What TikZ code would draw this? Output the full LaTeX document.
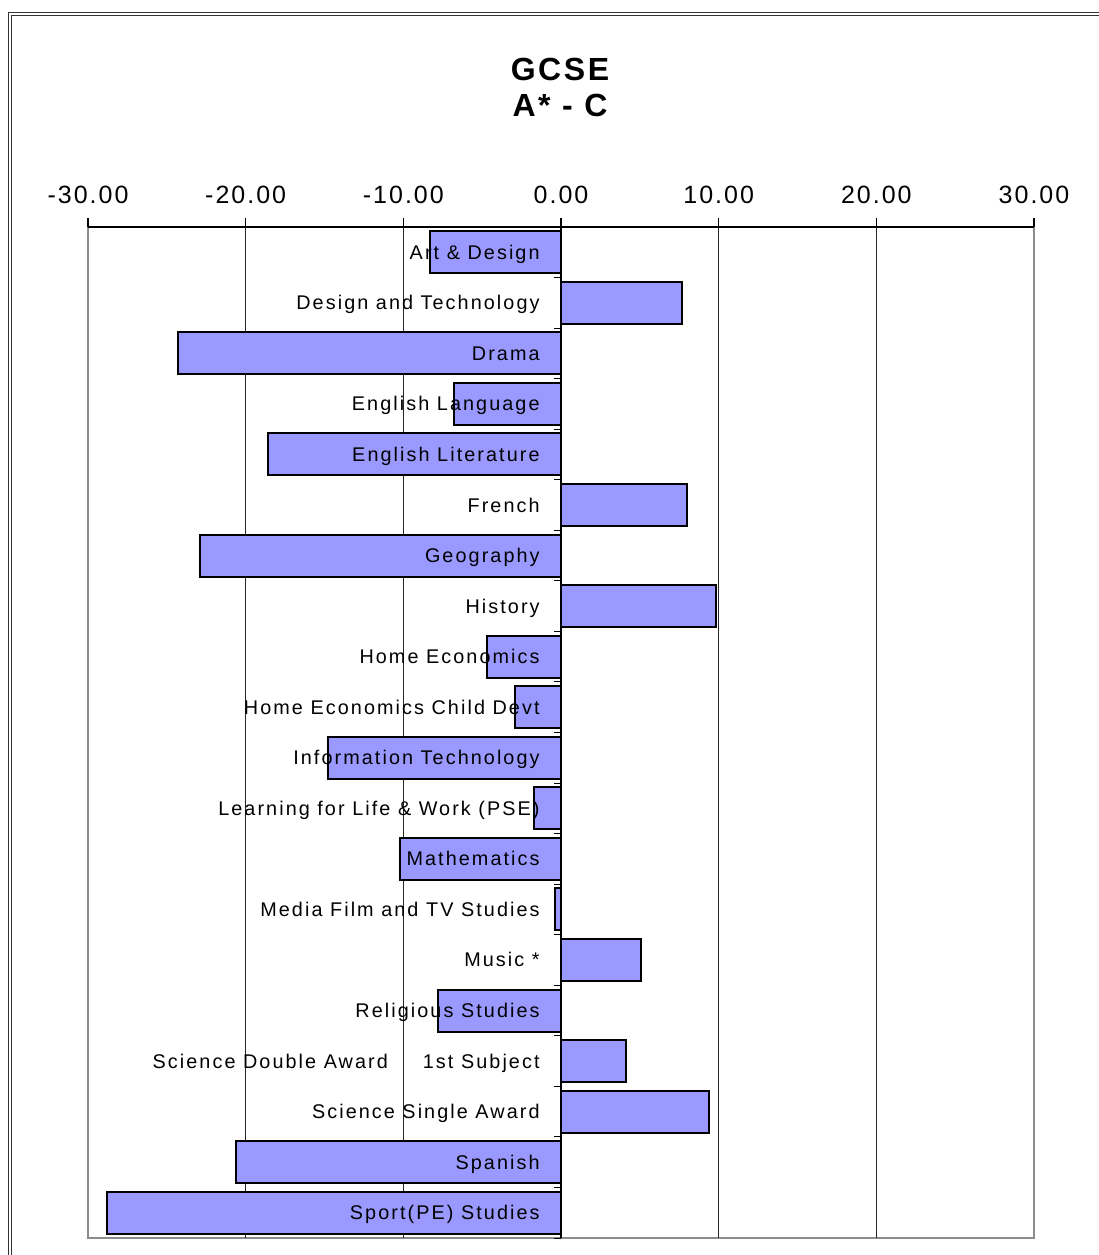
\documentclass[tikz,border=0pt]{standalone}
\usepackage{fontspec}
\setmainfont{Liberation Sans}[LetterSpace=10.5]
\newfontfamily\titlefont{Liberation Sans}[LetterSpace=8]
\usetikzlibrary{calc}
\definecolor{barblue}{HTML}{9999FF}

\begin{document}
\begin{tikzpicture}[x=0.5pt, y=-0.5pt,
    bar/.style={draw=black, line width=1pt, fill=barblue},
    gridline/.style={draw=black!85, line width=0.75pt},
    plotframe/.style={draw=black!45, line width=1.2pt},
    subject/.style={anchor=base east, inner sep=0pt, font=\fontsize{9.9}{11}\selectfont},
    axisnum/.style={anchor=base, inner sep=0pt, font=\fontsize{12.5}{14}\titlefont},
    charttitle/.style={anchor=base, inner sep=0pt, font=\fontsize{16}{18}\titlefont\bfseries}]

    % chart parameters (pixel units)
    \def\Zx{561}     % x of 0.00
    \def\Ux{15.767}  % width of one unit
    \def\Top{227}    % top axis
    \def\Bot{1238}   % bottom of plot area
    \def\Row{50.55}  % height of one category
    \def\Half{21}    % half bar height

    \clip (0,0) rectangle (1099,1255);
    \fill[white] (0,0) rectangle (1099,1255);

    % outer frame
    \draw[black!80, line width=0.55pt, double=white, double distance=1pt] (10,14) rectangle (1130,1290);

    % title
    \node[charttitle] (gcse) at (560,80) {GCSE};
    \node[charttitle] (grade) at (560,116.5) {A* - C};

    % plot area
    \draw[plotframe] (88,\Top) -- (88,\Bot) -- (1034,\Bot) -- (1034,\Top);
    \foreach \v in {-20,-10,10,20} {
        \draw[gridline] (\Zx+\v*\Ux,\Top) -- (\Zx+\v*\Ux,\Bot);
    }

    % top axis with numbers
    \draw[black, line width=0.6pt] (88,\Top) -- (1034,\Top);
    \foreach \v/\t [count=\i] in {-30/-30.00,-20/-20.00,-10/-10.00,0/0.00,10/10.00,20/20.00,30/30.00} {
        \draw[black, line width=0.6pt] (\Zx+\v*\Ux,\Top) -- ++(0,-9);
        \node[axisnum] (num\i) at (\Zx+\v*\Ux,203) {\t};
    }

    % bars
    \foreach \v [count=\i from 0] in {-8.3,7.7,-24.3,-6.8,-18.6,8.0,-22.9,9.8,-4.7,-2.9,-14.8,-1.7,-10.2,-0.4,5.1,-7.8,4.1,9.4,-20.6,-28.8} {
        \pgfmathsetmacro\cy{\Top+\Row*(\i+0.5)}
        \draw[bar] (\Zx,\cy-\Half) rectangle (\Zx+\v*\Ux,\cy+\Half);
    }

    % zero axis and category ticks
    \draw[black, line width=0.6pt] (\Zx,\Top) -- (\Zx,\Bot);
    \foreach \k in {0,...,20} {
        \draw[black, line width=0.5pt] (\Zx-7,\Top+\Row*\k) -- (\Zx,\Top+\Row*\k);
    }

    % subject labels
    \foreach \name [count=\i from 0] in {Art \& Design,Design and Technology,Drama,English Language,English Literature,French,Geography,History,Home Economics,Home Economics Child Devt,Information Technology,Learning for Life \& Work (PSE),Mathematics,Media Film and TV Studies,Music *,Religious Studies,Science Double Award\hspace{17.5pt}1st Subject,Science Single Award,Spanish,Sport(PE) Studies} {
        \pgfmathsetmacro\cy{\Top+\Row*(\i+0.5)}
        \node[subject] (subj\i) at (540,\cy+7) {\name};
    }

\end{tikzpicture}
\end{document}
